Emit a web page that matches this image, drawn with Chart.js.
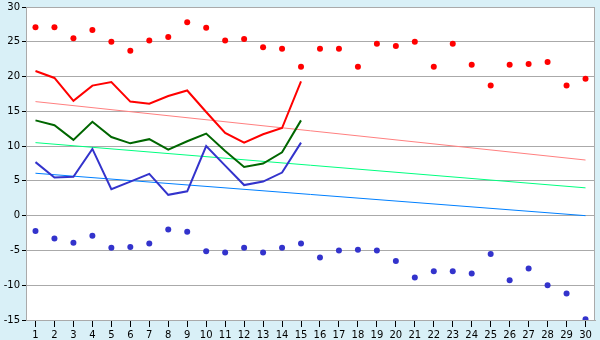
<!DOCTYPE html>
<html>
<head>
<meta charset="utf-8">
<script src="https://cdn.jsdelivr.net/npm/chart.js@4/dist/chart.umd.min.js"></script>
<style>
  body { margin: 0; background: #d9f0f7; }
  canvas { display: block; }
</style>
</head>
<body>
<canvas id="tempChart" width="600" height="340"></canvas>
<script>
// days of the month
const days = ["1", "2", "3", "4", "5", "6", "7", "8", "9", "10", "11", "12", "13", "14", "15",
  "16", "17", "18", "19", "20", "21", "22", "23", "24", "25", "26", "27", "28", "29", "30"]

// record values (dots)
const recordHigh = [27.1, 27.1, 25.5, 26.7, 25.0, 23.7, 25.2, 25.7, 27.8, 27.0, 25.2, 25.4, 24.2, 24.0, 21.4,
  24.0, 24.0, 21.4, 24.7, 24.4, 25.0, 21.4, 24.7, 21.7, 18.7, 21.7, 21.8, 22.1, 18.7, 19.7]
const recordLow = [-2.2, -3.3, -3.9, -2.9, -4.6, -4.5, -4.0, -2.0, -2.3, -5.1, -5.3, -4.6, -5.3, -4.6, -4.0,
  -6.0, -5.0, -4.9, -5.0, -6.5, -8.9, -8.0, -8.0, -8.3, -5.5, -9.3, -7.6, -10.0, -11.2, -14.9]

// this month so far
const maxTemp = [20.8, 19.8, 16.5, 18.7, 19.2, 16.4, 16.1, 17.2, 18.0, 14.9, 11.9, 10.5, 11.7, 12.6, 19.3]
const meanTemp = [13.7, 13.0, 10.9, 13.5, 11.3, 10.4, 11.0, 9.5, 10.7, 11.8, 9.3, 7.0, 7.5, 9.1, 13.7]
const minTemp = [7.7, 5.5, 5.6, 9.6, 3.8, 4.9, 6.0, 3.0, 3.5, 10.0, 7.2, 4.4, 4.9, 6.2, 10.5]

// normals: value on day 1 and day 30
const normalMax = [16.4, 8.0]
const normalMean = [10.5, 4.0]
const normalMin = [6.1, 0.0]

const yTicks = { min: -15, max: 30, step: 5 }

// put the two endpoints on the first and last day, gaps spanned
const ends = (pair) => days.map((d, i) => (i === 0 ? pair[0] : i === days.length - 1 ? pair[1] : null))

const plotBg = {
  id: "plotBg",
  beforeDraw(chart) {
    const { ctx, chartArea: a } = chart
    ctx.save()
    ctx.fillStyle = "#d9f0f7"
    ctx.fillRect(0, 0, chart.width, chart.height)
    ctx.fillStyle = "#ffffff"
    ctx.fillRect(a.left, a.top, a.right - a.left, a.bottom - a.top)
    ctx.restore()
  },
  beforeDatasetsDraw(chart) {
    const { ctx, chartArea: a } = chart
    ctx.save()
    ctx.strokeStyle = "#aaaaaa"
    ctx.lineWidth = 1
    ctx.beginPath()
    ctx.moveTo(a.left, a.top + 0.5)
    ctx.lineTo(a.right - 0.5, a.top + 0.5)
    ctx.lineTo(a.right - 0.5, a.bottom)
    ctx.stroke()
    ctx.restore()
  },
}

const dots = (label, data, color) => ({
  label, data, showLine: false, order: 1,
  pointStyle: "circle", pointRadius: 3, pointBorderWidth: 0,
  pointBackgroundColor: color, borderColor: color,
})
const line = (label, data, color, width, order) => ({
  label, data, borderColor: color, borderWidth: width, pointRadius: 0,
  tension: 0, spanGaps: true, fill: false, order,
})

const tickFont = { family: "DejaVu Sans", size: 10, lineHeight: 1 }

new Chart(document.getElementById("tempChart"), {
  type: "line",
  data: {
    labels: days,
    datasets: [
      dots("Record high", recordHigh, "#ff0000"),
      dots("Record low", recordLow, "#3333cc"),
      line("Max", maxTemp, "#ff0000", 2, 2),
      line("Mean", meanTemp, "#006600", 2, 2),
      line("Min", minTemp, "#3333cc", 2, 2),
      line("Normal max", ends(normalMax), "#ff8080", 1, 3),
      line("Normal mean", ends(normalMean), "#00ff80", 1, 3),
      line("Normal min", ends(normalMin), "#0080ff", 1, 3),
    ],
  },
  options: {
    responsive: false,
    animation: false,
    layout: { padding: { top: 5, right: 5, left: 0, bottom: 0 } },
    plugins: { legend: { display: false }, tooltip: { enabled: false } },
    scales: {
      x: {
        offset: true,
        grid: { drawOnChartArea: false, tickColor: "#000", tickLength: 7, offset: false },
        border: { color: "#aaaaaa" },
        ticks: { color: "#000", padding: 3, maxRotation: 0, autoSkip: false, font: tickFont },
        afterFit: (s) => { s.height = 20 },
      },
      y: {
        min: yTicks.min,
        max: yTicks.max,
        grid: { color: "#aaaaaa", tickColor: "#000", tickLength: 4 },
        border: { color: "#aaaaaa" },
        ticks: { stepSize: yTicks.step, color: "#000", padding: 2, font: tickFont },
        afterFit: (s) => { s.width = 26 },
      },
    },
  },
  plugins: [plotBg],
})
</script>
</body>
</html>
